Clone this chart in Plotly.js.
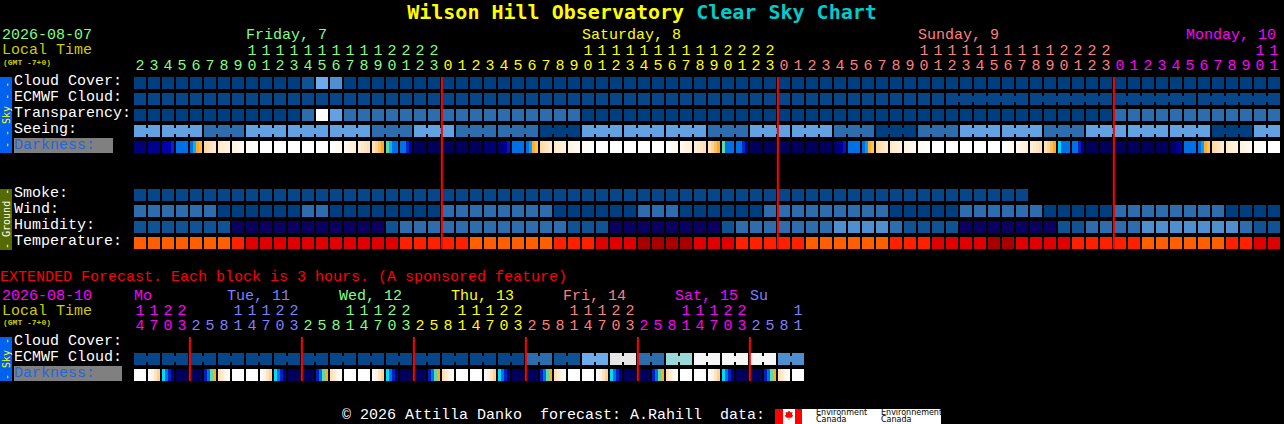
<!DOCTYPE html>
<html><head><meta charset="utf-8">
<script src="https://cdn.plot.ly/plotly-3.0.1.min.js"></script>
<style>html,body{margin:0;padding:0;background:#000;overflow:hidden}</style>
</head><body><div id="chart" style="width:1284px;height:424px"></div>
<script>
// ---------- level palette (index used by the value arrays) ----------
const levelColors = ['#003F7F','#074688','#0F5394','#2D6DAD','#4F8FD0','#63A2E2','#6CACEC','#E6E6E6','#99D9D9','#F6F6F6','#FFFFFF','#0A005F','#FF5F00','#FF2000','#E00000','#A80000'];

// ---------- main forecast: hour of each block ----------
const hours = [2,3,4,5,6,7,8,9,10,11,12,13,14,15,16,17,18,19,20,21,22,23,
 0,1,2,3,4,5,6,7,8,9,10,11,12,13,14,15,16,17,18,19,20,21,22,23,
 0,1,2,3,4,5,6,7,8,9,10,11,12,13,14,15,16,17,18,19,20,21,22,23,
 0,1,2,3,4,5,6,7,8,9,10,11];
const hourDayColors = ['#80FF80','#FFFF00','#FF7F7F','#FF00FF'];
const midnights = [21.5,45.5,69.5];

const cloudCover = [0,0,0,0,0,0,0,0,0,0, 0,0,2,6,4,0,0,0,0,0, 0,0,0,0,0,0,0,0,0,0, 0,0,0,0,0,0,0,0,0,0,
 0,0,0,0,0,0,0,0,0,0, 0,0,0,0,0,0,0,0,0,0, 0,0,0,0,0,0,0,0,0,0, 0,0,0,0,0,0,0,0,0,0, 0,0];
const ecmwfCloud = [1,1,1,1,1,1,1,1,1,1, 1,1,1,1,1,1,1,1,1,1, 1,1,1,1,1,1,1,1,1,1, 1,1,1,1,1,1,1,1,1,1,
 1,1,1,1,1,1,1,1,1,1, 1,1,1,1,1,1,1,1,1,1, 1,1,1,1,1,1,1,1,1,1, 1,1,1,1,1,1,1,1,1,1, 1,1];
const transparency = [0,0,0,0,0,0,0,0,0,0, 0,0,3,10,5,3,3,3,3,3, 3,3,3,3,3,3,3,3,3,3, 3,3,0,0,0,0,0,0,0,0,
 0,0,0,0,0,0,0,0,0,0, 0,0,0,0,0,0,0,0,0,0, 0,0,0,0,0,0,0,0,0,0, 3,3,3,3,3,3,3,3,3,3, 3,3];
const seeing = [5,5,5,5,5,3,3,3,5,5, 5,5,5,5,5,5,5,3,3,3, 5,5,5,3,3,3,3,3,3,0, 0,0,5,5,5,5,5,5,5,5,
 5,3,3,3,5,5,5,5,5,5, 3,3,3,0,0,0,3,3,3,5, 5,5,5,5,5,3,3,3,5,5, 5,5,5,5,5,5,5,0,0,0, 5,5];
const smoke = [1,1,1,1,1,1,1,1,1,1, 1,1,1,1,1,1,1,1,1,1, 1,1,1,1,1,1,1,1,1,1, 1,1,1,1,1,1,1,1,1,1,
 1,1,1,1,1,1,1,1,1,1, 1,1,1,1,1,1,1,1,1,1, 1,1,1,1,null,null,null,null,null,null,
 null,null,null,null,null,null,null,null,null,null, null,null];
const wind = [3,3,3,3,3,3,0,0,0,0, 0,0,3,3,0,0,0,0,0,0, 0,0,3,3,3,3,3,3,3,3, 0,0,0,0,0,0,3,3,3,0,
 0,0,0,0,0,3,3,3,3,3, 3,3,3,3,0,0,0,0,0,3, 3,3,3,3,3,0,0,0,0,0, 3,3,3,3,3,3,3,3,0,0, 0,0];
const humidity = [2,2,2,2,2,2,2,11,11,11, 11,11,11,11,11,11,11,11,2,3, 3,3,3,3,3,3,3,3,3,3, 3,2,2,2,11,11,11,11,11,11,
 11,11,2,3,3,3,3,3,3,3, 4,4,4,4,3,2,2,2,2,11, 11,11,11,11,11,11,2,2,3,3, 3,3,4,4,4,4,4,4,4,3, 2,2];
const temperature = [12,12,12,12,12,12,12,13,14,14, 14,14,14,14,14,14,14,14,14,13, 13,13,13,13,12,12,12,12,12,12, 13,13,13,14,14,14,15,15,15,15,
 14,14,14,13,13,13,13,13,12,12, 12,12,12,12,13,13,13,14,14,14, 14,15,15,14,14,14,14,13,13,13, 13,13,12,12,12,12,12,12,13,13, 14,14];
// blocks joined together by a narrow bridge (forecast step boundaries)
const seeingSteps = [0,2,5,8,11,14,17,20,23,26,29,32,35,38,41,44,47,50,53,56,59,62,65,68,71,74,77,80,82];
const ecmwfSteps = [58,64,70,76,82];

// darkness: limiting magnitude, four samples across each block
const darkness = [
 5.3,5.3,5.3,5.3, 5,5,5,5, 4.3,4.3,4,3.4, 2,2,2,2, 2,1.3,-0.5,-0.8,
 -1.8,-2,-2.2,-2.4, -2.4,-2.6,-2.8,-2.9, -3,-3.1,-3.3,-3.4, -3.6,-3.7,-3.8,-3.9,
 -4,-4,-4,-4, -4,-4,-4,-4, -4,-4,-4,-4, -4,-4,-4,-4, -4,-4,-4,-4,
 -3.9,-3.7,-3.5,-3.4, -3.4,-3.2,-3,-2.8, -2.7,-2.4,-2.2,-2, -2,-1.6,-1,-0.5,
 0.5,1.3,2,2, 2,2,3.4,4.3, 5.8,5.8,5.8,5.8, 5.8,5.8,5.8,5.8,
 5.8,5.8,5.8,5.8, 5.8,5.8,5.8,5.8, 5.8,5.8,5.8,5.8, 5.5,5.5,5.5,5.5,
 5.5,5.3,4.7,3.6, 2,2,2,2, 2,1.5,-0.6,-1,
 -1.8,-2,-2.2,-2.4, -2.4,-2.6,-2.8,-2.9, -3,-3.1,-3.3,-3.4, -3.6,-3.7,-3.8,-3.9,
 -4,-4,-4,-4, -4,-4,-4,-4, -4,-4,-4,-4, -4,-4,-4,-4, -4,-4,-4,-4,
 -3.9,-3.7,-3.5,-3.4, -3.4,-3.2,-3,-2.8, -2.7,-2.4,-2.2,-2, -2,-1.6,-1,-0.5,
 0.5,2,2,2, 2,2,3.4,4.6, 5.8,5.8,5.8,5.8, 5.8,5.8,5.8,5.8,
 5.8,5.8,5.8,5.8, 5.8,5.8,5.8,5.8, 5.8,5.8,5.8,5.8, 5.8,5.8,5.8,5.8,
 5.5,5.3,4.7,3.6, 2,2,2,2, 2,1.5,-0.6,-1,
 -1.8,-2,-2.2,-2.4, -2.4,-2.6,-2.8,-2.9, -3,-3.1,-3.3,-3.4, -3.6,-3.7,-3.8,-3.9,
 -4,-4,-4,-4, -4,-4,-4,-4, -4,-4,-4,-4, -4,-4,-4,-4, -4,-4,-4,-4,
 -3.9,-3.7,-3.5,-3.4, -3.4,-3.2,-3,-2.8, -2.7,-2.4,-2.2,-2, -2,-1.6,-1,-0.5,
 1,2,2,2, 2,2,3.5,5, 5.8,5.8,5.8,5.8, 5.8,5.8,5.8,5.8,
 5.8,5.8,5.8,5.8, 5.8,5.8,5.8,5.8, 5.8,5.8,5.8,5.8, 5.8,5.8,5.8,5.8,
 5.8,5.6,5,4, 2,2,2,2, 2,1.5,-0.6,-1,
 -1.8,-2,-2.2,-2.4, -2.4,-2.6,-2.8,-2.9, -3,-3.1,-3.3,-3.4, -3.6,-3.7,-3.8,-3.9,
 -4,-4,-4,-4
];
const darknessMagnitudes = [-4,-3.5,-3,-2.5,-2,-1.5,-1,-0.5,0,0.5,1,1.5,2,3,4,5,6];
const darknessColors = ['#FFFFFF','#FFFAF2','#FFF3E2','#FFEBD0','#FFE0B8','#FFD090','#FFC060','#FFA828','#C8C070','#60D8A0','#00D8F8','#00A0F8','#0070E8','#0040D0','#0000B0','#000090','#00004F'];

// ---------- extended forecast ----------
const extHours = [14,17,20,23, 2,5,8,11,14,17,20,23, 2,5,8,11,14,17,20,23, 2,5,8,11,14,17,20,23,
 2,5,8,11,14,17,20,23, 2,5,8,11,14,17,20,23, 2,5,8,11];
const extDayColors = ['#FF00FF','#7F7FFF','#80FF80','#FFFF00','#FF7F7F','#FF00FF','#7F7FFF'];
const extMidnights = [3.5,11.5,19.5,27.5,35.5,43.5];
const extEcmwf = [1,1,1,1,1,1,1,1,1,1, 1,1,1,1,1,1,1,1,1,1, 1,1,1,1,1,1,1,1,3,3, 2,2,6,6,7,7,3,3,8,8, 9,9,9,9,9,9,4,4];
const extSteps = [0,2,4,6,8,10,12,14,16,18,20,22,24,26,28,30,32,34,36,38,40,42,44,46,48];
const extDarkness = [
 -4,-4,-4,-4, -3.6,-3,-2.2,-1.5, 1,2,3.5,5, 5.8,5.8,5.8,5.8, 5.8,5.8,5.8,5.8, 3.5,2,0.5,-0.5, -2,-2.6,-3.2,-3.8, -4,-4,-4,-4,
 -4,-4,-4,-4, -3.6,-3,-2.2,-1.5, 1,2,3.5,5, 5.8,5.8,5.8,5.8, 5.8,5.8,5.8,5.8, 3.5,2,0.5,-0.5, -2,-2.6,-3.2,-3.8, -4,-4,-4,-4,
 -4,-4,-4,-4, -3.6,-3,-2.2,-1.5, 1,2,3.5,5, 5.8,5.8,5.8,5.8, 5.8,5.8,5.8,5.8, 3.5,2,0.5,-0.5, -2,-2.6,-3.2,-3.8, -4,-4,-4,-4,
 -4,-4,-4,-4, -3.6,-3,-2.2,-1.5, 1,2,3.5,5, 5.8,5.8,5.8,5.8, 5.8,5.8,5.8,5.8, 3.5,2,0.5,-0.5, -2,-2.6,-3.2,-3.8, -4,-4,-4,-4,
 -4,-4,-4,-4, -3.6,-3,-2.2,-1.5, 1,2,3.5,5, 5.8,5.8,5.8,5.8, 5.8,5.8,5.8,5.8, 3.5,2,0.5,-0.5, -2,-2.6,-3.2,-3.8, -4,-4,-4,-4,
 -4,-4,-4,-4, -3.6,-3,-2.2,-1.5, 1,2,3.5,5, 5.8,5.8,5.8,5.8, 5.8,5.8,5.8,5.8, 3.5,2,0.5,-0.5, -2,-2.6,-3.2,-3.8, -4,-4,-4,-4
];

// ---------- text ----------
const skyLabels = ['Cloud Cover:','ECMWF Cloud:','Transparency:','Seeing:'];
const groundLabels = ['Smoke:','Wind:','Humidity:','Temperature:'];
const extLabels = ['Cloud Cover:','ECMWF Cloud:'];
const dayLabels = [['Friday, 7',246,'#80FF80'],['Saturday, 8',582,'#FFFF00'],['Sunday, 9',918,'#FF7F7F'],['Monday, 10',1186,'#FF00FF']];
const extDayLabels = [['Mo',134,'#FF00FF'],['Tue, 11',227,'#7F7FFF'],['Wed, 12',339,'#80FF80'],['Thu, 13',451,'#FFFF00'],['Fri, 14',563,'#FF7F7F'],['Sat, 15',675,'#FF00FF'],['Su',750,'#7F7FFF']];

// ---------- page geometry ----------
const W = 1284, H = 424, FONT = '"Liberation Mono", monospace', TITLE_FONT = '"DejaVu Sans Mono", monospace';
const px = x => x / W, py = y => 1 - y / H;

const levelScale = [];
levelColors.forEach((c, k) => {
  levelScale.push([k / levelColors.length, c], [(k + 1) / levelColors.length, c]);
});
const darkScale = darknessMagnitudes.map((m, k) => [(m + 4) / 10, darknessColors[k]]);

function levelMap(rows, xa, ya) {
  return {type:'heatmap', z:rows, xaxis:xa, yaxis:ya, xgap:2, ygap:4, zmin:-0.5, zmax:levelColors.length - 0.5,
    colorscale:levelScale, showscale:false, hoverinfo:'skip'};
}
function darkMap(samples, row, xa, ya) {
  const n = samples.length / 4, xs = [], z = [];
  for (let i = 0; i < n; i++) {
    xs.push(i - 6/14, i - 3/14, i, i + 3/14, i + 6/14);
    z.push(samples[4*i], samples[4*i+1], samples[4*i+2], samples[4*i+3]);
    if (i < n - 1) z.push(null);
  }
  return {type:'heatmap', x:xs, y:[row - 0.5, row + 0.5], z:[z], xaxis:xa, yaxis:ya, ygap:4, zmin:-4, zmax:6,
    colorscale:darkScale, showscale:false, hoverinfo:'skip'};
}
function bridges(values, steps, row, xa, ya) {
  const byLevel = {};
  for (let s = 0; s < steps.length - 1; s++) {
    for (let i = steps[s]; i < steps[s+1] - 1; i++) {
      const v = values[i];
      (byLevel[v] = byLevel[v] || {x:[], y:[]});
      byLevel[v].x.push(i + 0.4, i + 0.6, null);
      byLevel[v].y.push(row, row, null);
    }
  }
  return Object.keys(byLevel).map(v => ({type:'scatter', mode:'lines', x:byLevel[v].x, y:byLevel[v].y, xaxis:xa, yaxis:ya,
    line:{color:levelColors[v], width:6}, hoverinfo:'skip', showlegend:false}));
}
function hourText(hs, palette, xa, ya) {
  let day = 0; const cols = [];
  hs.forEach((h, i) => { if (i && h < hs[i-1]) day++; cols.push(palette[day]); });
  const tensIdx = hs.map((h, i) => h >= 10 ? i : -1).filter(i => i >= 0);
  const base = {type:'scatter', mode:'text', xaxis:xa, yaxis:ya, cliponaxis:false, hoverinfo:'skip', showlegend:false, textposition:'middle center'};
  return [
    Object.assign({}, base, {x:hs.map((h,i)=>i), y:hs.map(()=>-1.07), text:hs.map(h=>String(h%10)), textfont:{family:FONT,size:15,color:cols}}),
    Object.assign({}, base, {x:tensIdx, y:tensIdx.map(()=>-2.0), text:tensIdx.map(i=>String(Math.floor(hs[i]/10))), textfont:{family:FONT,size:15,color:tensIdx.map(i=>cols[i])}})
  ];
}

const blank = hours.map(() => null);
const extBlank = extHours.map(() => null);
const traces = [
  levelMap([cloudCover, ecmwfCloud, transparency, seeing, blank, blank, blank, smoke, wind, humidity, temperature], 'x', 'y'),
  darkMap(darkness, 4, 'x', 'y'),
  ...bridges(seeing, seeingSteps, 3, 'x', 'y'),
  ...bridges(ecmwfCloud, ecmwfSteps, 1, 'x', 'y'),
  ...hourText(hours, hourDayColors, 'x', 'y'),
  levelMap([extBlank, extEcmwf, extBlank], 'x2', 'y2'),
  darkMap(extDarkness, 2, 'x2', 'y2'),
  ...bridges(extEcmwf, extSteps, 1, 'x2', 'y2'),
  ...hourText(extHours, extDayColors, 'x2', 'y2')
];

const anns = [];
function label(text, x, y, color, size, extra) {
  anns.push(Object.assign({xref:'paper', yref:'paper', x:px(x), y:py(y), text:text, showarrow:false,
    xanchor:'left', yanchor:'middle', borderpad:0, borderwidth:0, font:{family:FONT, size:size||15, color:color}}, extra||{}));
}
label('2026-08-07', 2, 36, '#80FF80');
label('Local Time', 2, 51, '#CCCC00');
label('<b>(GMT -7+0)</b>', 3, 62, '#CCCC00', 8);
dayLabels.forEach(d => label(d[0], d[1], 36, d[2]));
skyLabels.forEach((t, r) => label(t, 14, 81.6 + 16*r, '#FFFFFF'));
label('Darkness:', 14, 145.6, '#2266DD');
groundLabels.forEach((t, r) => label(t, 14, 193.6 + 16*r, '#FFFFFF'));
label('EXTENDED Forecast. Each block is 3 hours. (A sponsored feature)', 0, 277, '#FF0000');
label('2026-08-10', 2, 296, '#FF00FF');
label('Local Time', 2, 311, '#CCCC00');
label('<b>(GMT -7+0)</b>', 3, 322, '#CCCC00', 8);
extDayLabels.forEach(d => label(d[0], d[1], 296, d[2]));
extLabels.forEach((t, r) => label(t, 14, 341.6 + 16*r, '#FFFFFF'));
label('Darkness:', 14, 373.6, '#2266DD');
label('©\u00A02026\u00A0Attilla\u00A0Danko\u00A0\u00A0forecast:\u00A0A.Rahill\u00A0\u00A0data:', 342, 415.4, '#FFFFFF');
// side strips
function strip(text, y, color) {
  anns.push({xref:'paper', yref:'paper', x:px(6), y:py(y), text:text, showarrow:false, textangle:-90, xanchor:'center', yanchor:'middle',
    borderpad:0, borderwidth:0, font:{family:TITLE_FONT, size:10, color:color}});
}
strip('-\u00A0-\u00A0Sky\u00A0-\u00A0-', 115, '#FFFF00');
strip('-\u00A0Ground\u00A0-', 219, '#FFFFFF');
strip('-\u00A0Sky\u00A0-', 359, '#FFFF00');
// environment canada logo text
[['Environment',816],['Environnement',881]].forEach(e => {
  anns.push({xref:'paper', yref:'paper', x:px(e[1]), y:py(412.5), text:e[0], showarrow:false, xanchor:'left', yanchor:'middle', borderpad:0, borderwidth:0, font:{family:'"DejaVu Sans", sans-serif', size:8, color:'#000'}});
  anns.push({xref:'paper', yref:'paper', x:px(e[1]), y:py(419.5), text:'Canada', showarrow:false, xanchor:'left', yanchor:'middle', borderpad:0, borderwidth:0, font:{family:'"DejaVu Sans", sans-serif', size:8, color:'#000'}});
});

function rect(x0, y0, x1, y1, color) {
  return {type:'rect', xref:'paper', yref:'paper', x0:px(x0), x1:px(x1), y0:py(y0), y1:py(y1), fillcolor:color, line:{width:0}, layer:'above'};
}
const shapes = [
  rect(0,77,12,153,'#0060F0'), rect(0,189,12,250,'#556B00'), rect(0,337,12,381,'#0060F0'),
  rect(14,138,113,153,'#808080'), rect(14,366,122,381,'#808080'),
  rect(775,409,941,424,'#FFFFFF'), rect(775,409,783,424,'#FF0000'), rect(795,409,802,424,'#FF0000')
];
const leaf = [[789,410.5],[790.5,412.5],[792.5,412],[792,415],[793.5,415.5],[791,418],[789.3,417.5],[789.3,420],[788.7,420],[788.7,417.5],[787,418],[784.5,415.5],[786,415],[785.5,412],[787.5,412.5]];
shapes.push({type:'path', xref:'paper', yref:'paper', layer:'above', fillcolor:'#FF0000', line:{width:0},
  path:leaf.map((p,i)=>(i?'L':'M')+px(p[0])+' '+py(p[1])).join(' ')+' Z'});
const LINE_SHIFT = 0.06;
midnights.forEach(m => shapes.push({type:'line', xref:'x', yref:'y', x0:m+LINE_SHIFT, x1:m+LINE_SHIFT, y0:-0.375, y1:10.375, line:{color:'#FF0000', width:2}, layer:'above'}));
extMidnights.forEach(m => shapes.push({type:'line', xref:'x2', yref:'y2', x0:m+LINE_SHIFT, x1:m+LINE_SHIFT, y0:-0.375, y1:2.375, line:{color:'#FF0000', width:2}, layer:'above'}));

const hidden = {visible:false, fixedrange:true, showgrid:false, zeroline:false};
const layout = {
  width:W, height:H, margin:{l:0,r:0,t:0,b:0,pad:0}, paper_bgcolor:'#000', plot_bgcolor:'rgba(0,0,0,0)', showlegend:false,
  title:{text:'<b><span style="color:#FFFF00">Wilson Hill Observatory</span> <span style="color:#00CCCC">Clear Sky Chart</span></b>',
    x:642/W, xanchor:'center', y:py(12), yanchor:'middle', font:{family:TITLE_FONT, size:20}, pad:{t:0,b:0,l:0,r:0}},
  xaxis:Object.assign({}, hidden, {domain:[px(133),px(1281)], range:[-0.5,81.5], anchor:'y'}),
  yaxis:Object.assign({}, hidden, {domain:[py(251),py(43)], range:[10.5,-2.5], anchor:'x'}),
  xaxis2:Object.assign({}, hidden, {domain:[px(133),px(805)], range:[-0.5,47.5], anchor:'y2'}),
  yaxis2:Object.assign({}, hidden, {domain:[py(383),py(303)], range:[2.5,-2.5], anchor:'x2'}),
  annotations:anns, shapes:shapes
};
Plotly.newPlot('chart', traces, layout, {staticPlot:true, displayModeBar:false});
</script></body></html>
